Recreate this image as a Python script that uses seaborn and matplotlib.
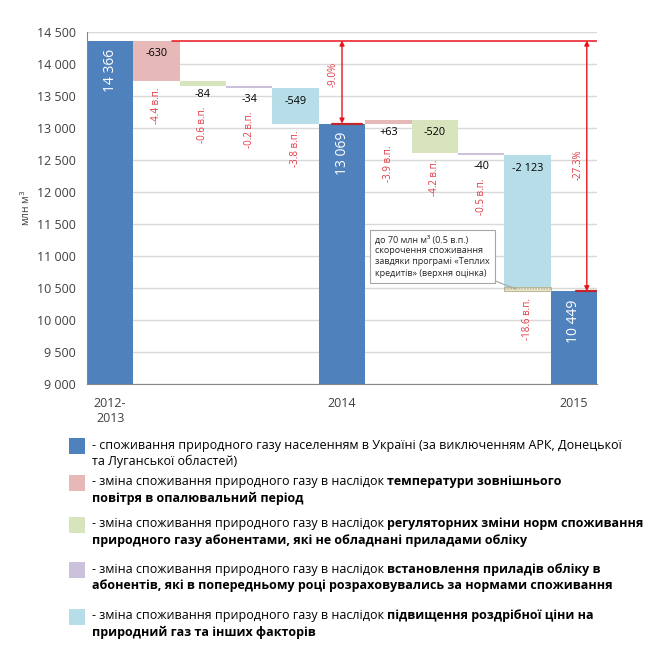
import numpy as np
import pandas as pd
import matplotlib
matplotlib.use("Agg")
import matplotlib.pyplot as plt
import seaborn as sns
from matplotlib.patches import Rectangle

# ---- data ----
categories = ["2012-2013", "t1", "r1", "m1", "p1", "2014", "t2", "r2", "m2", "p2", "2015"]
tick_labels = ["2012-\n2013", "2014", "2015"]
kinds = ["total", "temp", "reg", "meter", "price",
         "total", "temp", "reg", "meter", "price", "total"]
values = [14366, -630, -84, -34, -549, 13069, 63, -520, -40, -2123, 10449]
value_labels = ["14 366", "-630", "-84", "-34", "-549", "13 069",
                "+63", "-520", "-40", "-2 123", "10 449"]
pp_labels = ["", "-4.4 в.п.", "-0.6 в.п.", "-0.2 в.п.", "-3.8 в.п.", "",
             "-3.9 в.п.", "-4.2 в.п.", "-0.5 в.п.", "-18.6 в.п.", ""]
pct_labels = ["-9.0%", "-27.3%"]
warm_credit = 70  # млн м3, "Теплі кредити"

palette = {"total": "#4F81BD", "temp": "#E6B9B8", "reg": "#D7E4BD",
           "meter": "#CCC1DA", "price": "#B7DEE8"}
red = "#E8141C"
red_txt = "#E23A44"

legend_rows = [
    ("total", [[("- споживання природного газу населенням в Україні (за виключенням АРК, Донецької", "normal")],
               [("та Луганської областей)", "normal")]]),
    ("temp", [[("- зміна споживання природного газу в наслідок", "normal"), ("температури зовнішнього", "bold")],
              [("повітря в опалювальний період", "bold")]]),
    ("reg", [[("- зміна споживання природного газу в наслідок", "normal"), ("регуляторних зміни норм споживання", "bold")],
             [("природного газу абонентами, які не обладнані приладами обліку", "bold")]]),
    ("meter", [[("- зміна споживання природного газу в наслідок", "normal"), ("встановлення приладів обліку в", "bold")],
               [("абонентів, які в попередньому році розраховувались за нормами споживання", "bold")]]),
    ("price", [[("- зміна споживання природного газу в наслідок", "normal"), ("підвищення роздрібної ціни на", "bold")],
               [("природний газ та інших факторів", "bold")]]),
]

# waterfall geometry
bottoms, heights, levels = [], [], []
level = 0
for k, v in zip(kinds, values):
    if k == "total":
        bottoms.append(0)
        heights.append(v)
        level = v
    else:
        new = level + v
        bottoms.append(min(level, new))
        heights.append(abs(v))
        level = new
    levels.append(level)
df = pd.DataFrame({"cat": categories, "height": heights})

sns.set_style("white")
plt.rcParams["font.family"] = ["Open Sans", "DejaVu Sans"]

fig = plt.figure(figsize=(6.57, 6.53), dpi=100)
W, H = 657, 653
ax = fig.add_axes([87 / W, 1 - 384 / H, 510 / W, 352 / H])

sns.barplot(data=df, x="cat", y="height", bottom=bottoms, width=1.0,
            color=palette["total"], errorbar=None, linewidth=0, ax=ax, zorder=2)
for patch, k in zip(ax.patches, kinds):
    patch.set_facecolor(palette[k])

# "warm credits" slice at the bottom of the last price bar
ax.bar(9, warm_credit, bottom=levels[9], width=1.0, facecolor="#F2F0DC",
       edgecolor="#B5AD85", hatch="......", linewidth=0.6, zorder=3)

ax.set_xlim(-0.5, 10.5)
ax.set_ylim(9000, 14500)
ax.set_yticks(np.arange(9000, 14501, 500))
ax.set_yticklabels([f"{v:,}".replace(",", " ") for v in range(9000, 14501, 500)])
ax.yaxis.grid(True, color="#D9D9D9", linewidth=1, zorder=0)
ax.set_axisbelow(True)
ax.set_xticks([0, 5, 10])
ax.set_xticklabels(tick_labels)
ax.set_xticks(np.arange(-0.5, 11, 1), minor=True)
ax.tick_params(axis="x", which="major", length=0, pad=9, labelsize=9, colors="#404040")
ax.tick_params(axis="x", which="minor", length=5, color="#868686", direction="out")
ax.tick_params(axis="y", length=5, color="#868686", direction="out", pad=3,
               labelsize=9, labelcolor="#404040")
for s in ["top", "right"]:
    ax.spines[s].set_visible(False)
for s in ["left", "bottom"]:
    ax.spines[s].set_color("#868686")
    ax.spines[s].set_linewidth(0.8)
ax.set_xlabel("")
ax.set_ylabel("млн м$^3$", fontsize=7.5, color="#404040", labelpad=3)

# value labels
for i, (k, h) in enumerate(zip(kinds, heights)):
    top = bottoms[i] + h
    if k == "total":
        ax.annotate(value_labels[i], (i, top), xytext=(0, -6), textcoords="offset points",
                    rotation=90, ha="center", va="top", color="white", fontsize=10, zorder=5)
        continue
    ax.annotate(value_labels[i], (i, top), xytext=(0, -9.5), textcoords="offset points",
                ha="center", va="center", fontsize=7.8, color="black", zorder=5)
    if h > 200:
        ax.annotate(pp_labels[i], (i, bottoms[i]), xytext=(0, -5), textcoords="offset points",
                    rotation=90, ha="center", va="top", fontsize=7, color=red_txt, zorder=5)
    else:
        ax.annotate(pp_labels[i], (i, top), xytext=(0, -18.5), textcoords="offset points",
                    rotation=90, ha="center", va="top", fontsize=7, color=red_txt, zorder=5)

# reference line and change arrows
ax.plot([1.33, 10.5], [values[0], values[0]], color=red, lw=1.1, zorder=4)
ax.plot([4.78, 5.43], [values[5], values[5]], color="#C0282E", lw=1.6, zorder=4)
ax.plot([10.05, 10.5], [values[10], values[10]], color="#C0282E", lw=1.6, zorder=4)
arrow = dict(arrowstyle="<|-|>", color=red, lw=1.0, shrinkA=0, shrinkB=0, mutation_scale=7)
ax.annotate("", xy=(5, values[5]), xytext=(5, values[0]), arrowprops=arrow, zorder=4)
ax.annotate("", xy=(10.28, values[10]), xytext=(10.28, values[0]), arrowprops=arrow, zorder=4)
ax.text(4.8, 13830, pct_labels[0], rotation=90, ha="center", va="center",
        fontsize=7, color=red_txt)
ax.text(10.1, 12420, pct_labels[1], rotation=90, ha="center", va="center",
        fontsize=7, color=red_txt)

# callout box
ax.annotate("до 70 млн м³ (0.5 в.п.)\nскорочення споживання\nзавдяки програмі «Теплих\nкредитів» (верхня оцінка)",
            xy=(8.75, levels[9] + warm_credit / 2), xytext=(5.71, 11330), textcoords="data",
            ha="left", va="top", fontsize=6.5, linespacing=1.3, color="#262626",
            bbox=dict(boxstyle="square,pad=0.55", fc="white", ec="#A6A6A6", lw=0.8),
            arrowprops=dict(arrowstyle="-", color="#A6A6A6", lw=0.8, shrinkA=0, shrinkB=0),
            zorder=6)

# legend below the chart, with bold runs
renderer = fig.canvas.get_renderer()
inv = fig.transFigure.inverted()
row_y = [445, 482, 524, 569, 616]
line_gap = 16.5
fs = 9.0


def rich_line(x_px, y_px, parts):
    x = x_px / W
    for text, weight in parts:
        t = fig.text(x, 1 - y_px / H, text, fontsize=fs, fontweight=weight,
                     ha="left", va="center", color="black")
        bb = t.get_window_extent(renderer=renderer)
        x = inv.transform((bb.x1 + 3.4, bb.y0))[0]


for (kind, lines), y0 in zip(legend_rows, row_y):
    fig.patches.append(Rectangle((69 / W, 1 - (y0 + 9) / H), 16 / W, 16 / H,
                                 transform=fig.transFigure, facecolor=palette[kind],
                                 edgecolor="none"))
    for j, parts in enumerate(lines):
        rich_line(92, y0 + j * line_gap, parts)

fig.savefig("out.png", dpi=100)
